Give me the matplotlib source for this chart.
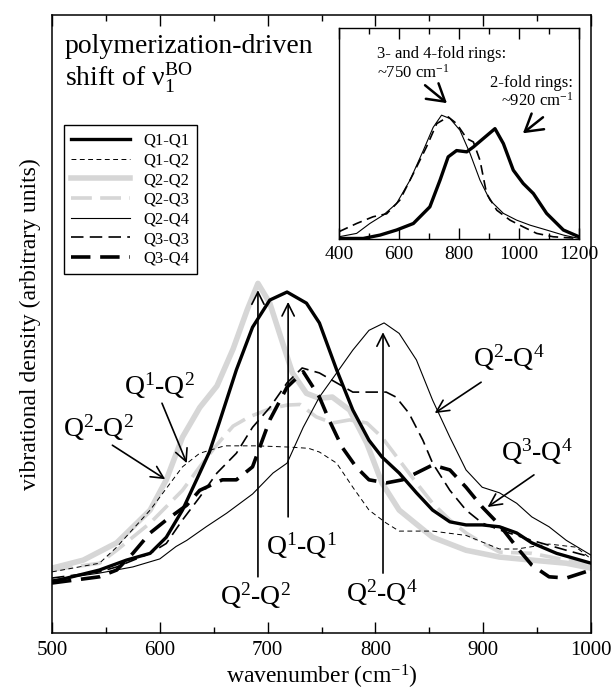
import matplotlib
matplotlib.use("Agg")
import matplotlib.pyplot as plt
from matplotlib.ticker import MultipleLocator

plt.rcParams['font.family'] = ['Liberation Serif', 'DejaVu Serif']
plt.rcParams['mathtext.fontset'] = 'custom'
plt.rcParams['mathtext.rm'] = 'Liberation Serif'
plt.rcParams['mathtext.it'] = 'Liberation Serif'
plt.rcParams['lines.scale_dashes'] = False

# espectros principais (unidades arbitrarias)
q1q1_x = [500, 544, 569, 591, 606, 621, 637, 646, 655, 671, 686, 702, 718, 736, 748, 764, 779, 794, 806, 822, 838, 853, 869, 884, 899, 915, 931, 945, 968, 1000]
q1q1_y = [8.3, 10.2, 11.8, 12.9, 15.5, 19.9, 25.9, 29.3, 34.0, 42.6, 49.5, 53.9, 55.2, 53.4, 50.2, 42.6, 36.1, 31.2, 28.5, 25.9, 22.7, 19.9, 18.0, 17.5, 17.5, 17.2, 16.2, 14.6, 12.9, 11.3]

q1q2_x = [500, 544, 560, 591, 621, 637, 660, 690, 720, 738, 748, 764, 779, 794, 810, 822, 853, 884, 915, 931, 961, 986, 1000]
q1q2_y = [9.9, 11.3, 13.9, 19.9, 26.9, 29.1, 30.3, 30.3, 30.1, 29.9, 29.3, 27.5, 23.6, 19.9, 17.8, 16.5, 16.5, 15.8, 13.6, 13.6, 14.4, 13.9, 12.0]

q2q2_x = [500, 529, 560, 591, 606, 621, 637, 653, 668, 681, 691, 702, 714, 723, 736, 748, 760, 776, 792, 806, 822, 853, 884, 915, 945, 977, 1000]
q2q2_y = [10.5, 11.8, 14.6, 19.9, 24.8, 31.7, 36.5, 40.0, 46.0, 52.3, 56.6, 53.4, 46.9, 42.1, 38.8, 38.0, 38.2, 36.1, 30.7, 24.3, 19.9, 15.5, 13.4, 12.3, 11.8, 11.3, 10.5]

q2q3_x = [500, 544, 560, 591, 621, 637, 653, 668, 683, 702, 718, 730, 745, 760, 776, 792, 806, 822, 838, 853, 869, 884, 899, 915, 945, 977, 1000]
q2q3_y = [10.2, 11.3, 13.4, 17.8, 23.1, 26.9, 30.5, 33.5, 35.0, 36.3, 36.9, 37.0, 35.0, 34.0, 34.5, 34.0, 31.7, 28.0, 24.3, 21.0, 18.3, 16.2, 14.6, 13.1, 12.9, 11.8, 11.3]

q2q4_x = [500, 544, 575, 600, 615, 625, 643, 662, 686, 705, 718, 733, 748, 764, 779, 794, 808, 822, 838, 853, 869, 884, 899, 915, 931, 945, 961, 977, 1000]
q2q4_y = [8.6, 9.7, 10.7, 12.0, 14.0, 15.0, 17.2, 19.4, 22.5, 25.9, 27.5, 33.3, 38.2, 42.1, 45.8, 49.0, 50.2, 48.5, 44.2, 37.7, 31.7, 26.4, 23.6, 22.7, 21.0, 18.8, 17.2, 15.0, 12.6]

q3q3_x = [500, 544, 560, 591, 606, 621, 637, 653, 671, 686, 702, 718, 732, 748, 764, 779, 794, 810, 819, 831, 844, 853, 869, 884, 899, 915, 945, 977, 1000]
q3q3_y = [8.9, 9.9, 10.7, 12.9, 14.5, 18.3, 22.0, 25.9, 29.1, 33.3, 36.5, 40.5, 42.9, 42.1, 40.5, 39.0, 39.0, 39.0, 38.2, 35.6, 31.2, 27.5, 23.1, 19.9, 17.8, 16.7, 15.0, 13.4, 12.3]

q3q4_x = [500, 544, 560, 575, 591, 606, 625, 637, 658, 671, 686, 702, 718, 733, 748, 757, 769, 782, 794, 810, 825, 838, 853, 869, 884, 899, 915, 931, 945, 961, 977, 1000]
q3q4_y = [8.1, 9.1, 10.2, 12.9, 16.2, 18.3, 20.7, 23.1, 24.8, 24.8, 26.9, 34.5, 39.8, 42.3, 38.2, 34.5, 30.1, 26.9, 24.8, 24.3, 24.8, 25.9, 27.2, 26.4, 23.6, 20.4, 17.5, 13.9, 11.0, 9.1, 8.9, 10.2]

# inset
ins_thin_x = [400, 459, 503, 548, 592, 637, 681, 714, 742, 770, 803, 837, 870, 903, 948, 992, 1037, 1092, 1148, 1200]
ins_thin_y = [0.011, 0.027, 0.074, 0.114, 0.169, 0.28, 0.42, 0.53, 0.588, 0.572, 0.517, 0.406, 0.28, 0.185, 0.122, 0.09, 0.066, 0.043, 0.019, 0.003]
ins_dash_x = [400, 459, 514, 559, 603, 648, 692, 726, 764, 792, 826, 848, 870, 892, 926, 970, 1014, 1059, 1114, 1200]
ins_dash_y = [0.035, 0.074, 0.106, 0.12, 0.185, 0.311, 0.438, 0.548, 0.58, 0.548, 0.477, 0.461, 0.374, 0.216, 0.137, 0.09, 0.058, 0.027, 0.011, 0.003]
ins_thick_x = [400, 481, 537, 592, 648, 703, 737, 764, 792, 826, 848, 881, 920, 948, 981, 1014, 1048, 1092, 1148, 1200]
ins_thick_y = [0.003, 0.003, 0.019, 0.043, 0.074, 0.153, 0.28, 0.39, 0.42, 0.414, 0.437, 0.477, 0.524, 0.453, 0.327, 0.264, 0.216, 0.122, 0.043, 0.011]

grey = '#d6d6d6'

fig = plt.figure(figsize=(6.14, 6.91), dpi=100)
ax = fig.add_axes([0.0847, 0.0839, 0.878, 0.894])

ax.plot(q1q1_x, q1q1_y, color='black', lw=2.4, label='Q1-Q1', zorder=5)
ax.plot(q1q2_x, q1q2_y, color='black', lw=0.7, dashes=(3.5, 2.5), label='Q1-Q2', zorder=4)
ax.plot(q2q2_x, q2q2_y, color=grey, lw=4.0, label='Q2-Q2', zorder=2)
ax.plot(q2q3_x, q2q3_y, color=grey, lw=2.6, dashes=(15, 6), label='Q2-Q3', zorder=2)
ax.plot(q2q4_x, q2q4_y, color='black', lw=0.8, label='Q2-Q4', zorder=4)
ax.plot(q3q3_x, q3q3_y, color='black', lw=1.2, dashes=(9, 4.5), label='Q3-Q3', zorder=4)
ax.plot(q3q4_x, q3q4_y, color='black', lw=2.6, dashes=(14, 7), label='Q3-Q4', zorder=5)

ax.set_xlim(500, 1000)
ax.set_ylim(0, 100)
ax.xaxis.set_major_locator(MultipleLocator(100))
ax.xaxis.set_minor_locator(MultipleLocator(50))
ax.set_yticks([])
ax.tick_params(axis='x', which='both', direction='in', top=True, labelsize=15, pad=6)
ax.tick_params(axis='x', which='major', length=8, width=1)
ax.tick_params(axis='x', which='minor', length=4.5, width=1)
for s in ax.spines.values():
    s.set_linewidth(1.1)
ax.set_xlabel('wavenumber (cm$^{-1}$)', fontsize=17, labelpad=2)
ax.set_ylabel('vibrational density (arbitrary units)', fontsize=17, labelpad=8)

leg = ax.legend(loc='upper left', bbox_to_anchor=(0.022, 0.822), borderaxespad=0,
                fontsize=12, handlelength=3.5, handletextpad=0.8, labelspacing=0.22,
                fancybox=False, framealpha=1, edgecolor='black', borderpad=0.45)
leg.get_frame().set_linewidth(1.0)

ax.text(0.024, 0.9385, 'polymerization-driven', transform=ax.transAxes, fontsize=20, va='baseline')
ax.text(0.024, 0.885, r'shift of ν$_{1}^{\mathrm{BO}}$', transform=ax.transAxes, fontsize=20, va='baseline')

# anotacoes
arr = dict(arrowstyle='->', lw=1.2, color='black', mutation_scale=22, shrinkA=0, shrinkB=0)
ax.annotate('', xy=(625, 27.5), xytext=(602, 37.2), arrowprops=arr)
ax.annotate('', xy=(605, 24.9), xytext=(556, 30.4), arrowprops=arr)
ax.annotate('', xy=(691, 55.5), xytext=(691, 9.1), arrowprops=arr)
ax.annotate('', xy=(719, 53.6), xytext=(719, 18.8), arrowprops=arr)
ax.annotate('', xy=(807, 48.7), xytext=(807, 9.7), arrowprops=arr)
ax.annotate('', xy=(855, 35.6), xytext=(898, 40.6), arrowprops=arr)
ax.annotate('', xy=(904, 20.4), xytext=(947, 25.6), arrowprops=arr)

qfs = 20
ax.text(600, 40.1, r'Q$^{1}$-Q$^{2}$', fontsize=qfs, ha='center', va='center')
ax.text(543.5, 33.3, r'Q$^{2}$-Q$^{2}$', fontsize=qfs, ha='center', va='center')
ax.text(689, 6.1, r'Q$^{2}$-Q$^{2}$', fontsize=qfs, ha='center', va='center')
ax.text(731.5, 14.2, r'Q$^{1}$-Q$^{1}$', fontsize=qfs, ha='center', va='center')
ax.text(805.5, 6.6, r'Q$^{2}$-Q$^{4}$', fontsize=qfs, ha='center', va='center')
ax.text(924, 44.5, r'Q$^{2}$-Q$^{4}$', fontsize=qfs, ha='center', va='center')
ax.text(950, 29.3, r'Q$^{3}$-Q$^{4}$', fontsize=qfs, ha='center', va='center')

# inset
axi = fig.add_axes([0.552, 0.654, 0.391, 0.305])
axi.plot(ins_thin_x, ins_thin_y, color='black', lw=0.8)
axi.plot(ins_dash_x, ins_dash_y, color='black', lw=1.2, dashes=(7, 4))
axi.plot(ins_thick_x, ins_thick_y, color='black', lw=2.4)
axi.set_xlim(400, 1200)
axi.set_ylim(0, 1)
axi.xaxis.set_major_locator(MultipleLocator(200))
axi.xaxis.set_minor_locator(MultipleLocator(100))
axi.set_yticks([])
axi.tick_params(axis='x', which='both', direction='in', top=True, labelsize=14, pad=5)
axi.tick_params(axis='x', which='major', length=8, width=1)
axi.tick_params(axis='x', which='minor', length=4.5, width=1)
for s in axi.spines.values():
    s.set_linewidth(1.0)

axi.text(527, 0.858, '3- and 4-fold rings:', fontsize=12, va='baseline')
axi.text(527, 0.768, r'~750 cm$^{-1}$', fontsize=12, va='baseline')
axi.text(1180, 0.72, '2-fold rings:', fontsize=12, va='baseline', ha='right')
axi.text(1180, 0.635, r'~920 cm$^{-1}$', fontsize=12, va='baseline', ha='right')
arr2 = dict(arrowstyle='->, head_length=0.5, head_width=0.3', lw=1.8, color='black',
            mutation_scale=24, shrinkA=0, shrinkB=0)
axi.annotate('', xy=(760, 0.645), xytext=(687, 0.73), arrowprops=arr2)
axi.annotate('', xy=(1013, 0.502), xytext=(1080, 0.578), arrowprops=arr2)

fig.savefig('out.png', dpi=100)
